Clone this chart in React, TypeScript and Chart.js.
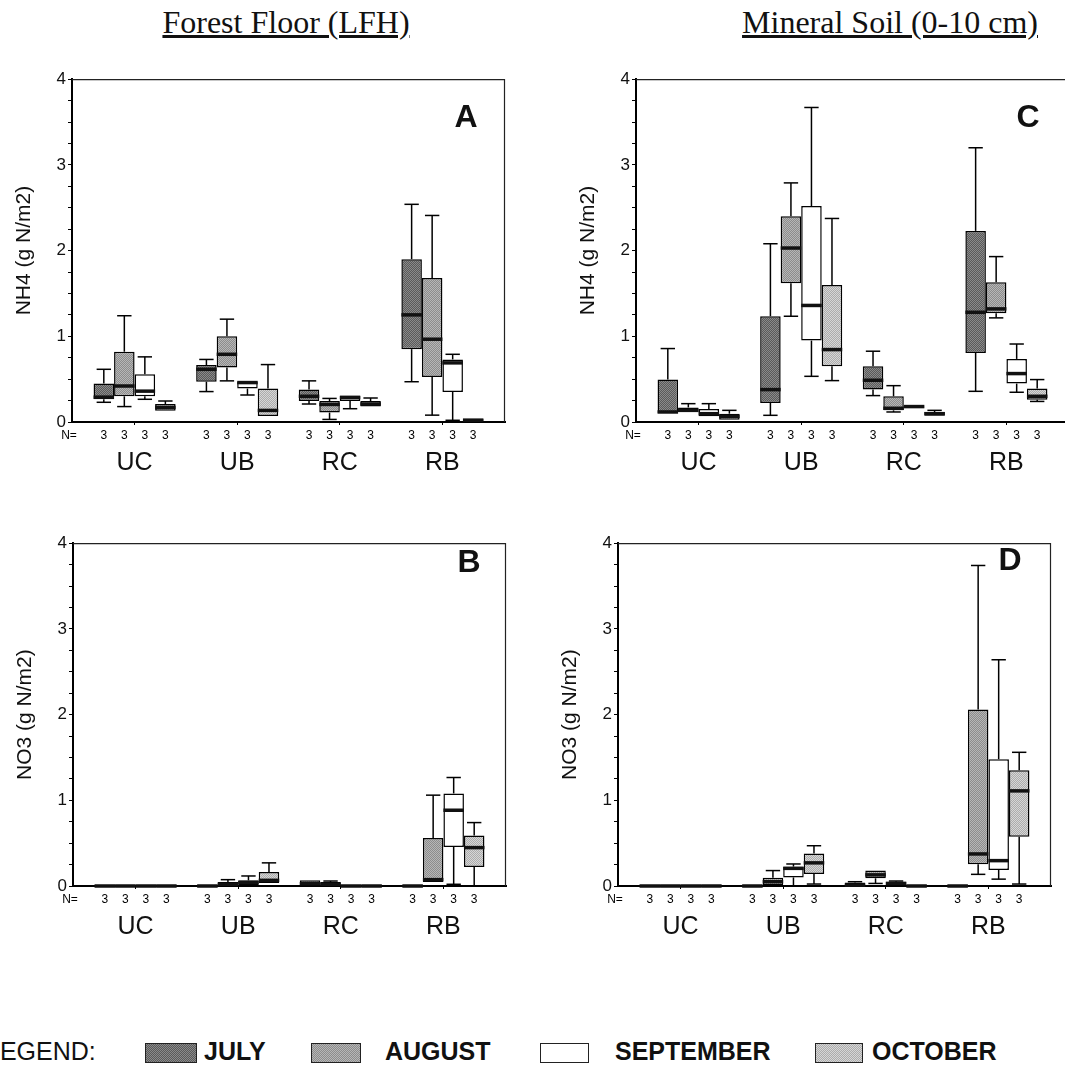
import React, { useEffect, useRef } from "react";
import { Chart, registerables } from "chart.js";

Chart.register(...registerables);

// [low whisker, Q1, median, Q3, high whisker] per site category
type Box = [number, number, number, number, number];

const categories = ["UC", "UB", "RC", "RB"];
const months = ["JULY", "AUGUST", "SEPTEMBER", "OCTOBER"];
const sampleSizes = [3, 3, 3, 3];
const yMin = 0;
const yMax = 4;
const yStep = 0.25;

// Panel A: Forest floor NH4
const forestNh4July: Box[] = [[0.23, 0.265, 0.29, 0.45, 0.615], [0.355, 0.47, 0.615, 0.665, 0.73], [0.21, 0.245, 0.3, 0.38, 0.48], [0.47, 0.85, 1.25, 1.9, 2.54]];
const forestNh4August: Box[] = [[0.18, 0.3, 0.42, 0.82, 1.24], [0.48, 0.635, 0.79, 1.0, 1.2], [0.03, 0.11, 0.205, 0.245, 0.275], [0.08, 0.526, 0.966, 1.68, 2.41]];
const forestNh4September: Box[] = [[0.265, 0.3, 0.36, 0.557, 0.76], [0.315, 0.39, 0.46, 0.47, 0.47], [0.155, 0.245, 0.285, 0.31, 0.31], [0.02, 0.35, 0.69, 0.73, 0.79]];
const forestNh4October: Box[] = [[0.13, 0.13, 0.17, 0.21, 0.245], [0.07, 0.07, 0.135, 0.39, 0.67], [0.18, 0.18, 0.21, 0.245, 0.28], [0.01, 0.01, 0.02, 0.04, 0.04]];

// Panel B: Forest floor NO3
const forestNo3July: Box[] = [[0, 0, 0, 0.01, 0.01], [0, 0, 0, 0.01, 0.01], [0, 0, 0.027, 0.066, 0.066], [0, 0, 0, 0.01, 0.01]];
const forestNo3August: Box[] = [[0, 0, 0, 0.01, 0.01], [0, 0, 0.02, 0.047, 0.074], [0, 0, 0.02, 0.047, 0.058], [0.047, 0.047, 0.074, 0.56, 1.06]];
const forestNo3September: Box[] = [[0, 0, 0, 0.01, 0.01], [0, 0.008, 0.04, 0.066, 0.117], [0, 0, 0, 0.01, 0.01], [0.02, 0.456, 0.884, 1.08, 1.266]];
const forestNo3October: Box[] = [[0, 0, 0, 0.01, 0.01], [0.035, 0.035, 0.066, 0.164, 0.27], [0, 0, 0, 0.01, 0.01], [0, 0.222, 0.448, 0.59, 0.74]];

// Panel C: Mineral soil NH4
const mineralNh4July: Box[] = [[0.105, 0.105, 0.117, 0.495, 0.857], [0.078, 0.222, 0.378, 1.234, 2.08], [0.308, 0.378, 0.487, 0.65, 0.826], [0.358, 0.806, 1.28, 2.23, 3.2]];
const mineralNh4August: Box[] = [[0.117, 0.117, 0.136, 0.17, 0.214], [1.234, 1.62, 2.03, 2.4, 2.79], [0.117, 0.136, 0.16, 0.3, 0.424], [1.215, 1.27, 1.32, 1.63, 1.93]];
const mineralNh4September: Box[] = [[0.066, 0.066, 0.097, 0.152, 0.214], [0.533, 0.95, 1.36, 2.52, 3.67], [0.164, 0.164, 0.18, 0.195, 0.195], [0.347, 0.448, 0.565, 0.736, 0.91]];
const mineralNh4October: Box[] = [[0.027, 0.027, 0.066, 0.097, 0.136], [0.483, 0.65, 0.845, 1.6, 2.375], [0.074, 0.074, 0.097, 0.117, 0.136], [0.24, 0.26, 0.3, 0.39, 0.495]];

// Panel D: Mineral soil NO3
const mineralNo3July: Box[] = [[0, 0, 0, 0.01, 0.01], [0, 0, 0, 0.01, 0.01], [0, 0, 0.01, 0.04, 0.05], [0, 0, 0, 0.01, 0.01]];
const mineralNo3August: Box[] = [[0, 0, 0, 0.01, 0.01], [0, 0, 0.05, 0.097, 0.18], [0.03, 0.09, 0.13, 0.18, 0.18], [0.136, 0.253, 0.374, 2.06, 3.74]];
const mineralNo3September: Box[] = [[0, 0, 0, 0.01, 0.01], [0, 0.1, 0.206, 0.226, 0.257], [0, 0, 0.03, 0.05, 0.058], [0.08, 0.187, 0.296, 1.48, 2.64]];
const mineralNo3October: Box[] = [[0, 0, 0, 0.01, 0.01], [0.023, 0.14, 0.27, 0.38, 0.47], [0, 0, 0, 0.01, 0.01], [0.023, 0.576, 1.11, 1.35, 1.56]];

const SANS = '"Liberation Sans", Arial, Helvetica, sans-serif';
const SERIF = '"Liberation Serif", "Times New Roman", serif';

type PanelCfg = {
  letter: string;
  yTitle: string;
  series: Box[][];
  axisX: number;
  plotTop: number;
  letterAt: [number, number];
};

const panels: PanelCfg[] = [
  { letter: "A", yTitle: "NH4 (g N/m2)", series: [forestNh4July, forestNh4August, forestNh4September, forestNh4October], axisX: 72, plotTop: 79, letterAt: [4.23, 3.54] },
  { letter: "B", yTitle: "NO3 (g N/m2)", series: [forestNo3July, forestNo3August, forestNo3September, forestNo3October], axisX: 73, plotTop: 543, letterAt: [4.25, 3.77] },
  { letter: "C", yTitle: "NH4 (g N/m2)", series: [mineralNh4July, mineralNh4August, mineralNh4September, mineralNh4October], axisX: 636, plotTop: 79, letterAt: [4.21, 3.55] },
  { letter: "D", yTitle: "NO3 (g N/m2)", series: [mineralNo3July, mineralNo3August, mineralNo3September, mineralNo3October], axisX: 618, plotTop: 543, letterAt: [4.21, 3.79] },
];

const Y_AXIS_W = 72;
const PLOT_W = 433;
const PLOT_H = 343;
const PAD_TOP = 12;
const PAD_RIGHT = 6;
const X_AXIS_H = 60;
const CANVAS_W = Y_AXIS_W + PLOT_W + PAD_RIGHT;
const CANVAS_H = PAD_TOP + PLOT_H + X_AXIS_H;

const fillColors: [string, string][] = [
  ["#8a8a8a", "#5a5a5a"],
  ["#b6b6b6", "#8c8c8c"],
  ["#ffffff", "#ffffff"],
  ["#d6d6d6", "#acacac"],
];

function makeDither(light: string, dark: string): CanvasPattern | string {
  const c = document.createElement("canvas");
  c.width = 2;
  c.height = 2;
  const g = c.getContext("2d");
  if (!g) return light;
  g.fillStyle = light;
  g.fillRect(0, 0, 2, 2);
  g.fillStyle = dark;
  g.fillRect(0, 0, 1, 1);
  g.fillRect(1, 1, 1, 1);
  return g.createPattern(c, "repeat") || light;
}

const boxPlugin = {
  id: "boxWhisker",
  afterDatasetsDraw(chart: any) {
    const ctx: CanvasRenderingContext2D = chart.ctx;
    const ys = chart.scales.y;
    const line = (x1: number, y1: number, x2: number, y2: number) => {
      ctx.beginPath();
      ctx.moveTo(x1, y1);
      ctx.lineTo(x2, y2);
      ctx.stroke();
    };
    ctx.save();
    ctx.strokeStyle = "#000";
    chart.data.datasets.forEach((ds: any, di: number) => {
      const meta = chart.getDatasetMeta(di);
      meta.data.forEach((bar: any, i: number) => {
        const [lo, q1, med, q3, hi] = ds.stats[i] as Box;
        const { x, width } = bar.getProps(["x", "width"], true);
        const cap = width * 0.7;
        ctx.lineWidth = 1.5;
        if (hi > q3) {
          line(x, ys.getPixelForValue(q3), x, ys.getPixelForValue(hi));
          line(x - cap / 2, ys.getPixelForValue(hi), x + cap / 2, ys.getPixelForValue(hi));
        }
        if (lo < q1) {
          line(x, ys.getPixelForValue(q1), x, ys.getPixelForValue(lo));
          line(x - cap / 2, ys.getPixelForValue(lo), x + cap / 2, ys.getPixelForValue(lo));
        }
        ctx.lineWidth = 3.5;
        ctx.strokeStyle = "#111";
        line(x - width / 2, ys.getPixelForValue(med), x + width / 2, ys.getPixelForValue(med));
        ctx.strokeStyle = "#000";
      });
    });
    ctx.restore();
  },
};

const decorPlugin = {
  id: "panelDecor",
  afterDraw(chart: any, _args: any, opts: any) {
    const ctx: CanvasRenderingContext2D = chart.ctx;
    const { left, right, top, bottom } = chart.chartArea;
    ctx.save();
    ctx.strokeStyle = "#222";
    ctx.lineWidth = 1.2;
    ctx.beginPath();
    ctx.moveTo(left, top + 0.5);
    ctx.lineTo(right - 0.5, top + 0.5);
    ctx.lineTo(right - 0.5, bottom);
    ctx.stroke();

    ctx.fillStyle = "#000";
    ctx.textAlign = "center";
    ctx.textBaseline = "middle";
    ctx.font = `12px ${SANS}`;
    ctx.fillText("N=", left - 3, bottom + 14);
    chart.data.datasets.forEach((_ds: any, di: number) => {
      chart.getDatasetMeta(di).data.forEach((bar: any, i: number) => {
        ctx.fillText(String(sampleSizes[i]), bar.x, bottom + 14);
      });
    });

    ctx.font = `bold 32px ${SANS}`;
    ctx.fillStyle = "#111";
    ctx.fillText(
      opts.letter,
      chart.scales.x.getPixelForValue(opts.at[0]),
      chart.scales.y.getPixelForValue(opts.at[1])
    );
    ctx.restore();
  },
};

function Panel({ cfg }: { cfg: PanelCfg }) {
  const ref = useRef<HTMLCanvasElement>(null);
  useEffect(() => {
    const canvas = ref.current;
    if (!canvas) return;
    const fills = fillColors.map(([l, d]) => makeDither(l, d));
    const chart = new Chart(canvas, {
      type: "bar",
      data: {
        datasets: cfg.series.map((boxes, m) => ({
          label: months[m],
          data: boxes.map((b, i) => ({ x: i + 1, y: [b[1], b[3]] })),
          stats: boxes,
          backgroundColor: fills[m],
          borderColor: "#000",
          borderWidth: 1.5,
          borderSkipped: false,
          barPercentage: 1,
          categoryPercentage: 0.8,
        })) as any,
      },
      options: {
        animation: false,
        responsive: false,
        maintainAspectRatio: false,
        devicePixelRatio: 1,
        events: [],
        layout: { padding: { top: PAD_TOP, right: PAD_RIGHT, left: 0, bottom: 0 } },
        plugins: {
          legend: { display: false },
          tooltip: { enabled: false },
          panelDecor: { letter: cfg.letter, at: cfg.letterAt },
        } as any,
        scales: {
          x: {
            type: "linear",
            min: 0.39,
            max: 4.61,
            offset: false,
            afterBuildTicks: (s: any) => {
              s.ticks = categories.map((_c, i) => ({ value: i + 1 }));
            },
            afterFit: (s: any) => {
              s.height = X_AXIS_H;
            },
            ticks: {
              autoSkip: false,
              maxRotation: 0,
              minRotation: 0,
              padding: 23,
              color: "#111",
              font: { family: SANS, size: 25 },
              callback: (v: any) => categories[Math.round(Number(v)) - 1] ?? "",
            },
            grid: { offset: false, drawOnChartArea: false, drawTicks: true, tickLength: 3, color: "#000" },
            border: { display: true, color: "#000", width: 2 },
          },
          y: {
            type: "linear",
            min: yMin,
            max: yMax,
            afterFit: (s: any) => {
              s.width = Y_AXIS_W;
            },
            ticks: {
              stepSize: yStep,
              autoSkip: false,
              padding: 2,
              color: "#111",
              font: { family: SANS, size: 17 },
              callback: (v: any) => (Number.isInteger(Number(v)) ? String(v) : ""),
            },
            grid: { drawOnChartArea: false, drawTicks: true, tickLength: 4, color: "#000" },
            border: { display: true, color: "#000", width: 2 },
            title: {
              display: true,
              text: cfg.yTitle,
              color: "#111",
              font: { family: SANS, size: 21 },
              padding: { top: 12, bottom: 0 },
            },
          },
        },
      } as any,
      plugins: [boxPlugin, decorPlugin],
    });
    return () => chart.destroy();
  }, [cfg]);

  return (
    <canvas
      ref={ref}
      width={CANVAS_W}
      height={CANVAS_H}
      style={{
        position: "absolute",
        left: cfg.axisX - Y_AXIS_W,
        top: cfg.plotTop - PAD_TOP,
        width: CANVAS_W,
        height: CANVAS_H,
      }}
    />
  );
}

const titleStyle: React.CSSProperties = {
  position: "absolute",
  top: 6,
  width: 500,
  textAlign: "center",
  fontFamily: SERIF,
  fontSize: 32,
  lineHeight: "32px",
  textDecoration: "underline",
  color: "#111",
  whiteSpace: "nowrap",
};

const legendItems = [
  { swatchLeft: 145, swatchW: 52, textLeft: 204 },
  { swatchLeft: 311, swatchW: 50, textLeft: 385 },
  { swatchLeft: 540, swatchW: 49, textLeft: 615 },
  { swatchLeft: 815, swatchW: 48, textLeft: 872 },
];

function swatchBg(m: number): string {
  const [l, d] = fillColors[m];
  if (l === d) return l;
  return `repeating-conic-gradient(${d} 0% 25%, ${l} 0% 50%) 0 0 / 2px 2px`;
}

export default function App() {
  return (
    <div
      style={{
        position: "absolute",
        left: 0,
        top: 0,
        width: 1065,
        height: 1069,
        overflow: "hidden",
        background: "#fff",
      }}
    >
      <div style={{ ...titleStyle, left: 286 - 250 }}>Forest Floor (LFH)</div>
      <div style={{ ...titleStyle, left: 890 - 250 }}>Mineral Soil (0-10 cm)</div>
      {panels.map((p) => (
        <Panel key={p.letter} cfg={p} />
      ))}
      <div
        style={{
          position: "absolute",
          left: -14,
          top: 1039,
          fontFamily: SANS,
          fontSize: 25,
          lineHeight: "25px",
          color: "#111",
          whiteSpace: "nowrap",
        }}
      >
        LEGEND:
      </div>
      {legendItems.map((it, m) => (
        <React.Fragment key={months[m]}>
          <div
            style={{
              position: "absolute",
              left: it.swatchLeft,
              top: 1043,
              width: it.swatchW,
              height: 20,
              boxSizing: "border-box",
              border: "1.5px solid #222",
              background: swatchBg(m),
            }}
          />
          <div
            style={{
              position: "absolute",
              left: it.textLeft,
              top: 1039,
              fontFamily: SANS,
              fontWeight: "bold",
              fontSize: 25,
              lineHeight: "25px",
              color: "#111",
              whiteSpace: "nowrap",
            }}
          >
            {months[m]}
          </div>
        </React.Fragment>
      ))}
    </div>
  );
}
